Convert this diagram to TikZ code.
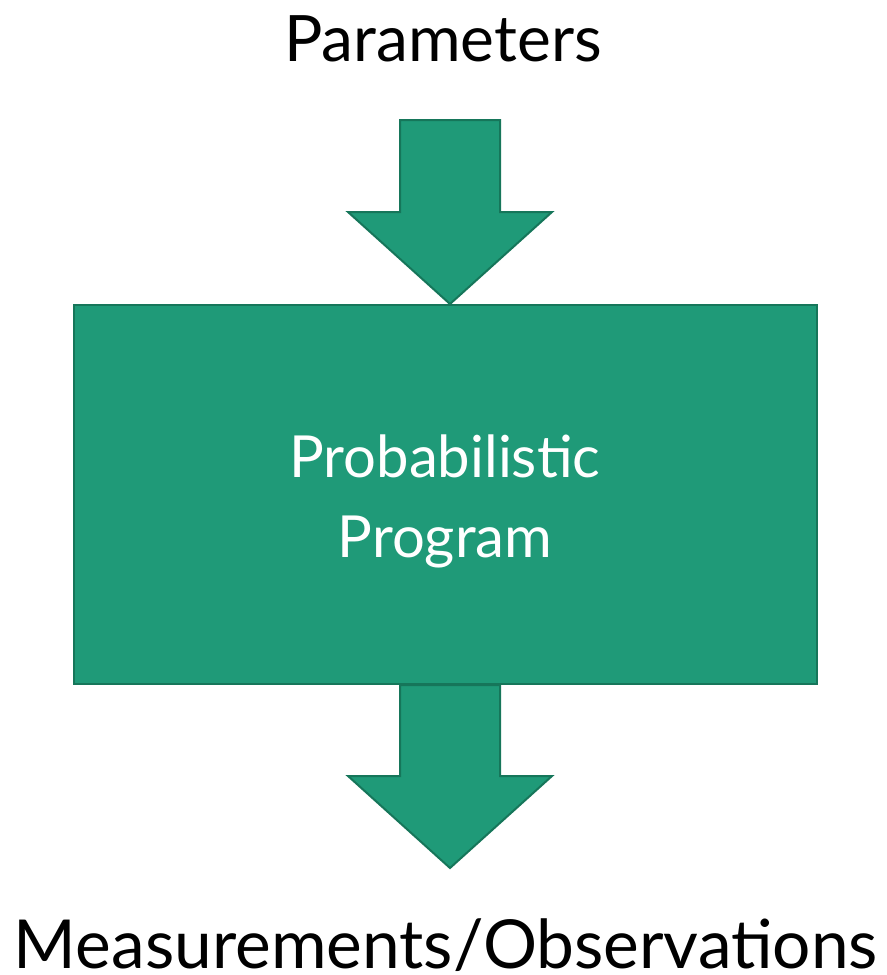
\documentclass[tikz,border=0pt]{standalone}
\usepackage{fontspec}
\setmainfont{Lato}
\usetikzlibrary{positioning}

\definecolor{progfill}{RGB}{31,154,120}
\definecolor{progline}{RGB}{22,118,90}

\tikzset{
	blockarrow/.style={fill=progfill, draw=progline, line width=1pt, line join=miter},
	progbox/.style={fill=progfill, draw=progline, line width=1pt, minimum width=371.5pt, minimum height=189.5pt, inner sep=0pt},
	label/.style={inner sep=0pt, anchor=base}
}

\begin{document}
\begin{tikzpicture}[x=0.5pt,y=-0.5pt]

	\useasboundingbox (0,0) rectangle (887,975);

	% Box
	\node[progbox] (prog) at (445.5,494.5) {};
	\node[label, text=white, align=center, font=\fontsize{29}{40}\selectfont] (progtext) at (445,557) {Probabilistic\\Program};

	% Texte
	\node[label, font=\fontsize{32}{38}\selectfont] (param) at (443,61) {Parameters};
	\node[label, font=\fontsize{33.8}{40}\selectfont] (meas) at (446,968) {Measurements/Observations};

	% Pfeil oben
	\coordinate (intop) at (450,120);
	\draw[blockarrow] (intop) ++(-50,0) -- ++(100,0) -- ++(0,92) -- ++(52,0) -- (prog.north -| intop) -- ++(-102,-92) -- ++(52,0) -- cycle;

	% Pfeil unten
	\coordinate (outtop) at (prog.south -| intop);
	\draw[blockarrow] (outtop) ++(-50,0) -- ++(100,0) -- ++(0,91) -- ++(52,0) -- ++(-102,92) -- ++(-102,-92) -- ++(52,0) -- cycle;

\end{tikzpicture}
\end{document}
